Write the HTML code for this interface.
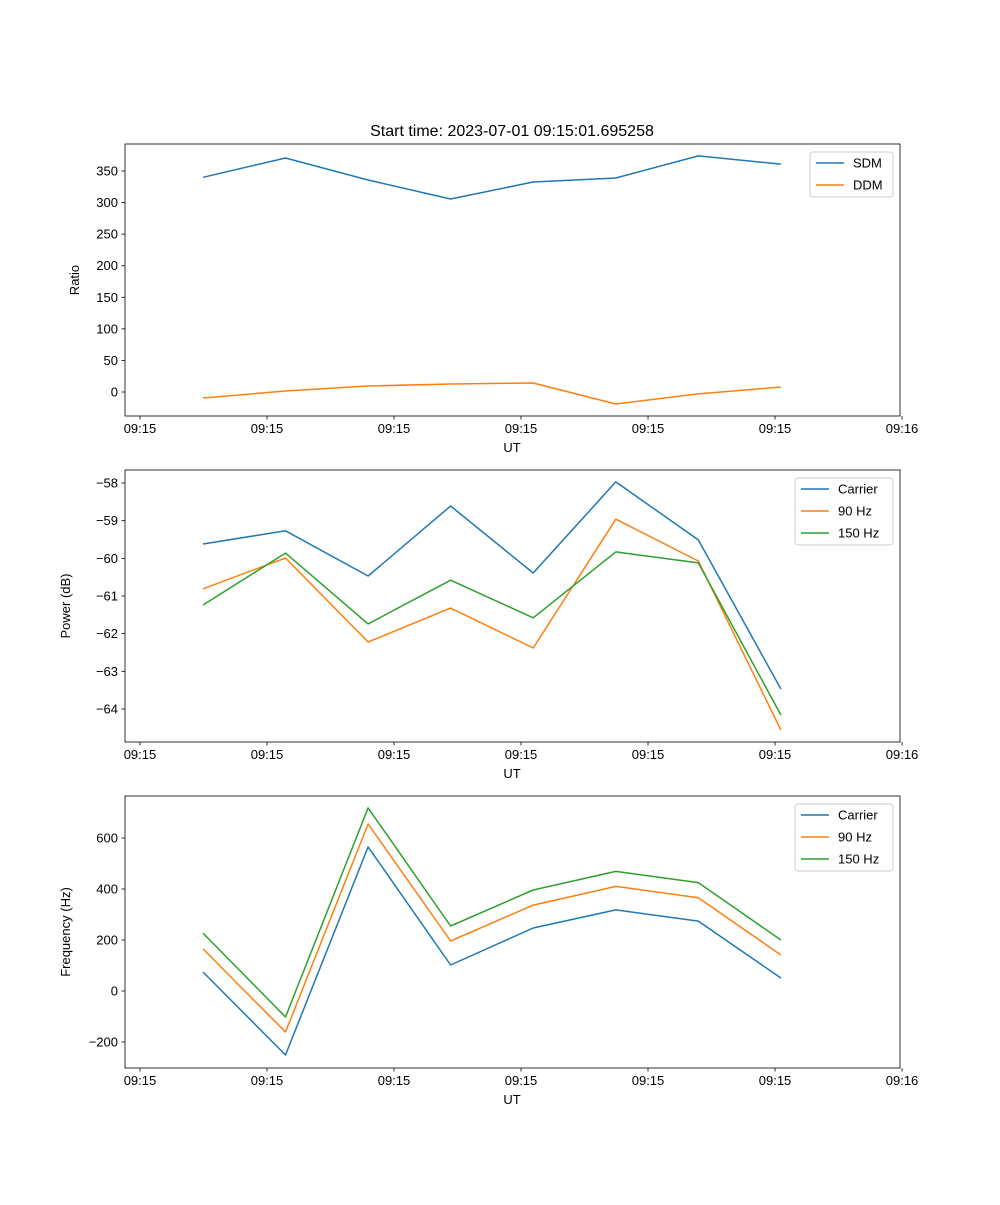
<!DOCTYPE html>
<html><head><meta charset="utf-8"><style>
body{margin:0;background:#fff}
svg text{font-family:"Liberation Sans","DejaVu Sans",sans-serif;fill:#000}
</style></head><body>
<svg id="fig" width="1000" height="1200" xmlns="http://www.w3.org/2000/svg"></svg>
<script>
// data (time in seconds after 09:15:00)
const times = [4.96, 11.46, 17.96, 24.46, 30.96, 37.46, 43.96, 50.46];
const xTickValues = [0, 10, 20, 30, 40, 50, 60];
const xTickLabels = ["09:15","09:15","09:15","09:15","09:15","09:15","09:16"];
const sdm = [340, 370.6, 335.8, 305.7, 332.6, 339, 374, 361];
const ddm = [-9.5, 1.6, 9.5, 12.7, 14.3, -19, -3, 8];
const pwrCarrier = [-59.62, -59.27, -60.47, -58.61, -60.39, -57.97, -59.51, -63.47];
const pwr90 = [-60.81, -59.99, -62.22, -61.32, -62.38, -58.96, -60.07, -64.56];
const pwr150 = [-61.24, -59.86, -61.74, -60.58, -61.58, -59.83, -60.12, -64.16];
const frqCarrier = [74.5, -251, 565, 102, 247, 318, 274, 51];
const frq90 = [165, -161, 655, 196, 337, 410, 366, 141];
const frq150 = [227, -102, 718, 255, 396, 469, 425, 200];
const ticks1 = [0, 50, 100, 150, 200, 250, 300, 350];
const ticks2 = [-64, -63, -62, -61, -60, -59, -58];
const ticks3 = [-200, 0, 200, 400, 600];

const NS = "http://www.w3.org/2000/svg";
const svg = document.getElementById("fig");
function el(tag, attrs, parent, text){
  const e = document.createElementNS(NS, tag);
  for (const k in attrs) e.setAttribute(k, attrs[k]);
  if (text !== undefined) e.textContent = text;
  (parent || svg).appendChild(e);
  return e;
}
const X0 = 125, X1 = 900, XMIN = -1.18, XMAX = 59.84;
const xs = v => X0 + (v - XMIN) / (XMAX - XMIN) * (X1 - X0);
const C = ["#1f77b4", "#ff7f0e", "#2ca02c"];

function panel(name, top, ymin, ymax, yticks, ylabel, series, labels, legW){
  const bot = top + 272;
  const ys = v => bot - (v - ymin) / (ymax - ymin) * (bot - top);
  const g = el("g", {});  
  series.forEach((s, si) => {
    const p = el("polyline", {points: s.map((v, i) => xs(times[i]).toFixed(1) + "," + ys(v).toFixed(1)).join(" "), fill: "none", stroke: C[si], "stroke-width": 1.5, "stroke-linejoin": "round"}, g);
    
    
  });
  const fr = el("rect", {x: X0, y: top, width: X1 - X0, height: 272, fill: "none", stroke: "#000", "stroke-width": 0.8}, g);
   
  xTickValues.forEach((v, i) => {
    const x = xs(v);
    el("line", {x1: x, x2: x, y1: bot, y2: bot + 3.5, stroke: "#000", "stroke-width": 0.8}, g);
    const t = el("text", {x: x, y: bot + 17, "font-size": 13, "text-anchor": "middle"}, g, xTickLabels[i]);
     
  });
  yticks.forEach(v => {
    const y = ys(v);
    el("line", {x1: X0, x2: X0 - 3.5, y1: y, y2: y, stroke: "#000", "stroke-width": 0.8}, g);
    const t = el("text", {x: X0 - 7, y: y + 4.5, "font-size": 13, "text-anchor": "end"}, g, String(v).replace("-", "\u2212"));
     
  });
  const xl = el("text", {x: 512, y: bot + 36, "font-size": 13, "text-anchor": "middle"}, g, "UT");
   
  const lx = name === "panel-ratio" ? 79 : 70;
  const yl = el("text", {x: lx, y: top + 136, "font-size": 13, "text-anchor": "middle", transform: `rotate(-90 ${lx} ${top + 136})`}, g, ylabel);
   
  // legend
  const lg = el("g", {}, g);  
  const lx0 = 893 - legW, ly0 = top + 8;
  el("rect", {x: lx0, y: ly0, width: legW, height: 1 + labels.length * 22, rx: 3, fill: "#fff", "fill-opacity": 0.8, stroke: "#ccc", "stroke-width": 1}, lg);
  labels.forEach((lab, i) => {
    const y = ly0 + 11 + i * 22;
    const e = el("g", {}, lg);  
    el("line", {x1: lx0 + 6, x2: lx0 + 34, y1: y, y2: y, stroke: C[i], "stroke-width": 1.5}, e);
    el("text", {x: lx0 + 43, y: y + 4.5, "font-size": 13}, e, lab);
  });
}

const title = el("text", {x: 512, y: 136, "font-size": 16, "text-anchor": "middle"}, svg, "Start time: 2023-07-01 09:15:01.695258");
 

panel("panel-ratio", 144, -38, 392.8, ticks1, "Ratio", [sdm, ddm], ["SDM", "DDM"], 83);
panel("panel-power", 470, -64.876, -57.655, ticks2, "Power (dB)", [pwrCarrier, pwr90, pwr150], ["Carrier", "90 Hz", "150 Hz"], 98);
panel("panel-frequency", 796, -302, 764.7, ticks3, "Frequency (Hz)", [frqCarrier, frq90, frq150], ["Carrier", "90 Hz", "150 Hz"], 98);
</script>
</body></html>
